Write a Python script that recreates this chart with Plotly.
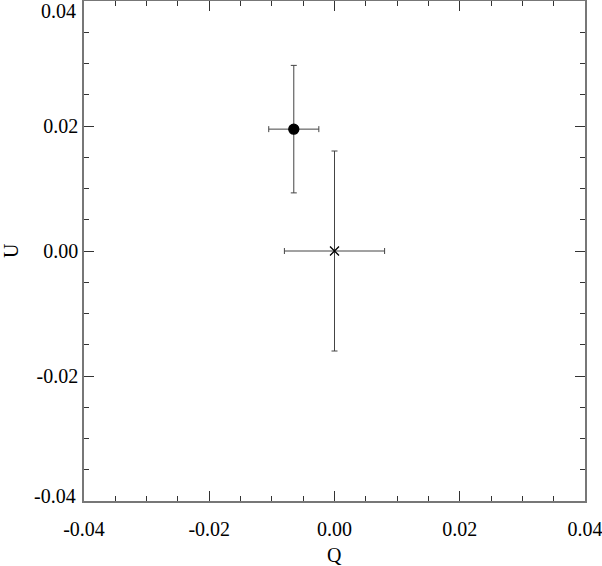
import plotly.graph_objects as go

# Data
q_vals = [-0.0065, 0.0]
u_vals = [0.0195, 0.0]
q_err = [0.0040, 0.0080]
u_err = [0.0102, 0.0160]
marker_symbols = ["circle", "x-thin-open"]
tick_vals = [-0.04, -0.02, 0.0, 0.02, 0.04]
tick_text = ["-0.04", "-0.02", "0.00", "0.02", "0.04"]

fig = go.Figure()
for i in range(len(q_vals)):
    fig.add_trace(go.Scatter(
        x=[q_vals[i]], y=[u_vals[i]], mode="markers",
        marker=dict(symbol=marker_symbols[i], size=10 if i == 0 else 9, color="black",
                    line=dict(color="black", width=1.3)),
        error_x=dict(type="data", array=[q_err[i]], color="#444", thickness=1, width=3),
        error_y=dict(type="data", array=[u_err[i]], color="#444", thickness=1, width=3),
        showlegend=False, hoverinfo="skip",
    ))

font = dict(family="Liberation Serif", size=20, color="black")
axis_common = dict(
    range=[-0.04000001, 0.04000001], tickvals=tick_vals,
    ticks="inside", ticklen=10, tickwidth=1, tickcolor="#333",
    minor=dict(dtick=0.005, tick0=0, ticks="inside", ticklen=5, tickwidth=1, tickcolor="#333", showgrid=False),
    showline=True, linecolor="#777", linewidth=1.5, mirror="allticks",
    showgrid=False, zeroline=False, tickfont=font, automargin=False,
    ticklabeloverflow="allow",
)
# end y labels drawn separately so they sit just inside the plot edges
y_text = [""] + tick_text[1:-1] + [""]
annotations = [
    dict(text="Q", xref="paper", yref="paper", x=0.5, y=0, yshift=-54,
         showarrow=False, font=font, xanchor="center", yanchor="middle"),
    dict(text="U", xref="paper", yref="paper", x=0, y=0.5, xshift=-73,
         showarrow=False, font=font, textangle=-90, xanchor="center", yanchor="middle"),
    dict(text=tick_text[-1], xref="paper", yref="y", x=0, y=tick_vals[-1], xshift=-6, yshift=-10,
         showarrow=False, font=font, xanchor="right", yanchor="middle"),
    dict(text=tick_text[0], xref="paper", yref="y", x=0, y=tick_vals[0], xshift=-6, yshift=5,
         showarrow=False, font=font, xanchor="right", yanchor="middle"),
]
fig.update_layout(
    width=602, height=566,
    margin=dict(l=84, r=17, t=1, b=65),
    plot_bgcolor="white", paper_bgcolor="white",
    font=font,
    xaxis=dict(**axis_common, ticktext=tick_text, ticklabelstandoff=9),
    yaxis=dict(**axis_common, ticktext=y_text),
    annotations=annotations,
)
fig.write_html("out.html", config={"displayModeBar": False},
               post_script="document.body.style.margin='0';")
